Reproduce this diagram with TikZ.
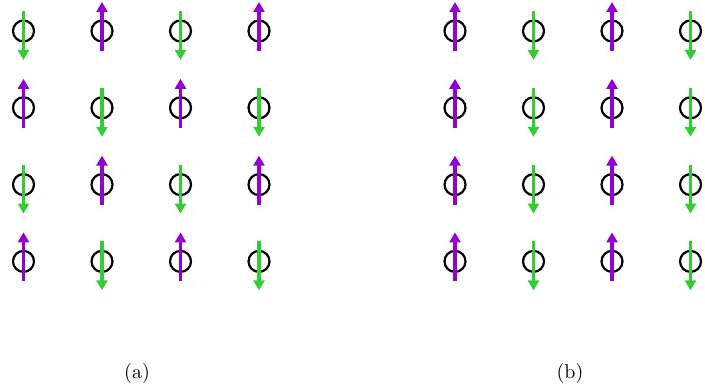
\documentclass[tikz,border=0pt]{standalone}
\usetikzlibrary{arrows.meta}
\definecolor{spinup}{RGB}{148,0,211}
\definecolor{spindown}{RGB}{50,205,50}
\tikzset{
  site/.style={circle,draw=black,line width=1.1pt,minimum size=10.5pt,inner sep=0pt},
  upspin/.style={draw=spinup,line width=1.6pt,-{Triangle[length=5pt,width=5.5pt]}},
  downspin/.style={draw=spindown,line width=1.6pt,-{Triangle[length=5pt,width=5.5pt]}},
  caption/.style={font=\normalsize,inner sep=0pt}
}
\begin{document}
\begin{tikzpicture}[x=0.5pt,y=-0.5pt]
\useasboundingbox (0,0) rectangle (705,389);
% (a) checkerboard
\foreach \i in {0,1,2,3}{
  \foreach \j in {0,1,2,3}{
    \pgfmathsetmacro{\cx}{23.5+78.5*\i}
    \pgfmathsetmacro{\cy}{31+76.8*\j}
    \node[site] (a\i\j) at (\cx,\cy) {};
    \coordinate (at\i\j) at (\cx,\cy-29);
    \coordinate (ab\i\j) at (\cx,\cy+29);
    \coordinate (au\i\j) at (\cx,\cy-20);
    \coordinate (ad\i\j) at (\cx,\cy+20);
    \pgfmathtruncatemacro{\myparity}{mod(\i+\j,2)}
    \ifnum\myparity=0
      \draw[downspin] (au\i\j) -- (ab\i\j);
    \else
      \draw[upspin] (ad\i\j) -- (at\i\j);
    \fi
  }
}
% (b) stripes
\foreach \i in {0,1,2,3}{
  \foreach \j in {0,1,2,3}{
    \pgfmathsetmacro{\cx}{455+78.5*\i}
    \pgfmathsetmacro{\cy}{31+76.8*\j}
    \node[site] (b\i\j) at (\cx,\cy) {};
    \coordinate (bt\i\j) at (\cx,\cy-29);
    \coordinate (bb\i\j) at (\cx,\cy+29);
    \coordinate (bu\i\j) at (\cx,\cy-20);
    \coordinate (bd\i\j) at (\cx,\cy+20);
    \pgfmathtruncatemacro{\myparity}{mod(\i,2)}
    \ifnum\myparity=1
      \draw[downspin] (bu\i\j) -- (bb\i\j);
    \else
      \draw[upspin] (bd\i\j) -- (bt\i\j);
    \fi
  }
}
\node[caption] (capa) at (137,373) {(a)};
\node[caption] (capb) at (570,373) {(b)};
\end{tikzpicture}
\end{document}
